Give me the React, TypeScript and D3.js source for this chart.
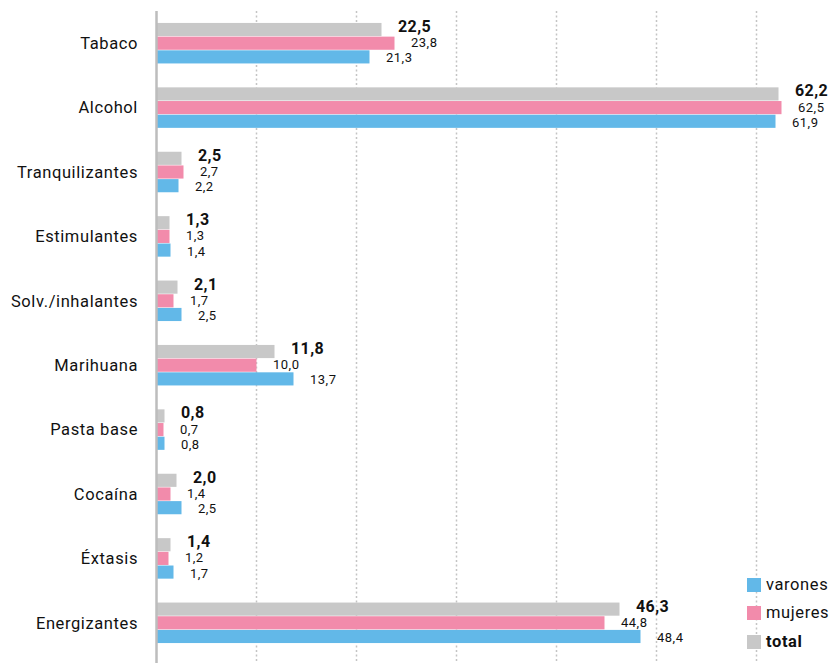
import * as React from 'react'
import * as d3 from 'd3'

const categories = ['Tabaco', 'Alcohol', 'Tranquilizantes', 'Estimulantes', 'Solv./inhalantes', 'Marihuana', 'Pasta base', 'Cocaína', 'Éxtasis', 'Energizantes']
const totalValues = [22.5, 62.2, 2.5, 1.3, 2.1, 11.8, 0.8, 2.0, 1.4, 46.3]
const mujeresValues = [23.8, 62.5, 2.7, 1.3, 1.7, 10.0, 0.7, 1.4, 1.2, 44.8]
const varonesValues = [21.3, 61.9, 2.2, 1.4, 2.5, 13.7, 0.8, 2.5, 1.7, 48.4]
const gridTicks = [10, 20, 30, 40, 50, 60, 70]

const seriesKeys = ['total', 'mujeres', 'varones']
const legendKeys = ['varones', 'mujeres', 'total']

const colors: Record<string, string> = {
  total: '#c8c8c8',
  mujeres: '#f28bab',
  varones: '#62b8e8',
}

const seriesData: Record<string, number[]> = {
  total: totalValues,
  mujeres: mujeresValues,
  varones: varonesValues,
}

const width = 833
const height = 663
const font = 'Roboto, "DejaVu Sans", sans-serif'

const fmt = d3.formatLocale({ decimal: ',', thousands: '.', grouping: [3], currency: ['', ''] }).format('.1f')

export default function App() {
  const x = d3.scaleLinear().domain([0, 10]).range([156.5, 256.5])
  const y = d3.scaleBand().domain(categories).range([11, 655]).paddingInner(0).paddingOuter(0)
  const inner = 40.5
  const y1 = d3.scaleBand().domain(seriesKeys).range([0, inner]).paddingInner(0.04)
  const groupOffset = (y.bandwidth() - inner) / 2

  const labelStyle: Record<string, { size: number; weight: number; dy: number; ls: number }> = {
    total: { size: 16, weight: 700, dy: 2.5, ls: 0.4 },
    mujeres: { size: 13, weight: 400, dy: 4, ls: 0.5 },
    varones: { size: 13, weight: 400, dy: 5.5, ls: 0.5 },
  }

  return (
    <svg width={width} height={height} style={{ position: 'absolute', left: 0, top: 0 }}>
      <rect width={width} height={height} fill="#fff" />
      {gridTicks.map((t) => (
        <line key={t} x1={x(t)} x2={x(t)} y1={11} y2={height} stroke="#c4c4c4" strokeWidth={1.5} strokeDasharray="2,2.5" />
      ))}
      {categories.map((c, i) => {
        const g0 = (y(c) ?? 0) + groupOffset
        return (
          <g key={c}>
            {seriesKeys.map((k) => {
              const v = seriesData[k][i]
              const by = g0 + (y1(k) ?? 0)
              const bh = y1.bandwidth()
              const st = labelStyle[k]
              return (
                <g key={k}>
                  <rect x={x(0)} y={by} width={x(v) - x(0)} height={bh} fill={colors[k]} />
                  <text
                    x={x(v) + 16.5}
                    y={by + bh / 2 + st.dy}
                    fontFamily={font}
                    fontSize={st.size}
                    fontWeight={st.weight}
                    letterSpacing={st.ls}
                    fill="#111"
                  >
                    {fmt(v)}
                  </text>
                </g>
              )
            })}
            <text
              x={138}
              y={(y(c) ?? 0) + y.bandwidth() / 2 + 5.8}
              textAnchor="end"
              fontFamily={font}
              fontSize={16.5}
              letterSpacing={0.6}
              fill="#111"
            >
              {c}
            </text>
          </g>
        )
      })}
      <line x1={x(0)} x2={x(0)} y1={11} y2={height} stroke="#bdbdbd" strokeWidth={2.5} />
      {legendKeys.map((k, i) => {
        const ly = [578, 606, 635][i]
        return (
          <g key={k}>
            <rect x={747} y={ly} width={14} height={14} fill={colors[k]} />
            <text
              x={766}
              y={ly + 12}
              fontFamily={font}
              fontSize={16.5}
              letterSpacing={0.6}
              fontWeight={k === 'total' ? 700 : 400}
              fill="#111"
            >
              {k}
            </text>
          </g>
        )
      })}
    </svg>
  )
}
